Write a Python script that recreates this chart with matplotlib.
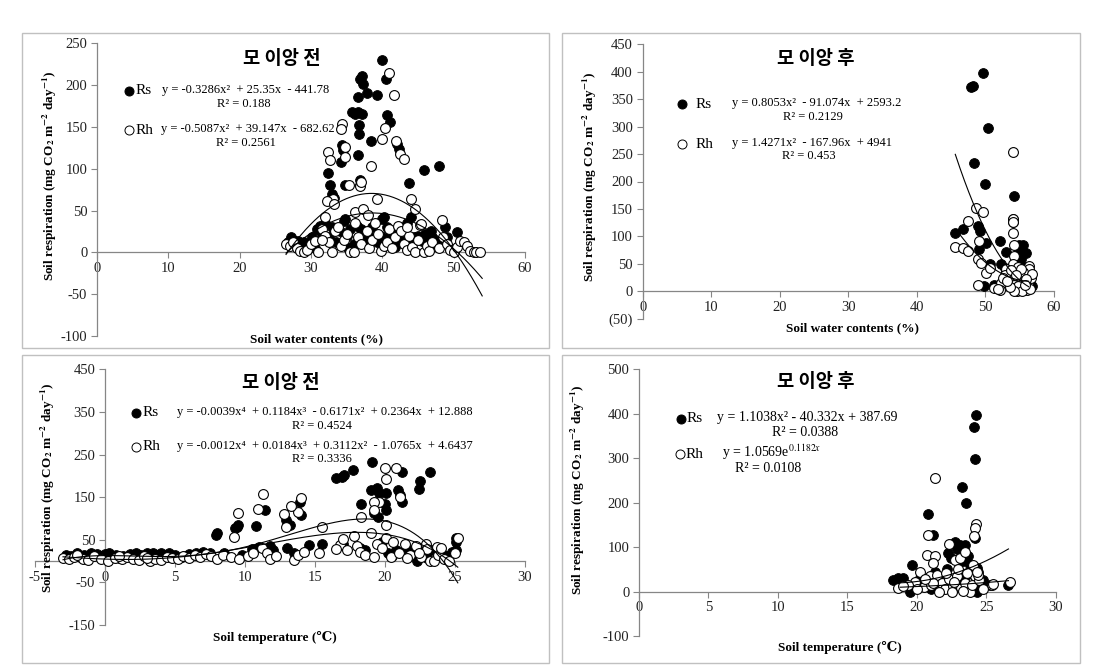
import numpy as np
import matplotlib
matplotlib.use("Agg")
import matplotlib.pyplot as plt
from matplotlib.lines import Line2D
from matplotlib.patches import Rectangle

plt.rcParams['font.family'] = ['Liberation Serif', 'DejaVu Serif']
plt.rcParams['mathtext.fontset'] = 'stix'
plt.rcParams['axes.unicode_minus'] = False

# ---------------- DATA ----------------
# Panel 1: soil water contents, before transplanting
p1_rs_x = [39.9,37.1,36.9,37.3,37.9,36.6,39.2,40.5,35.7,36.6,37.1,36.2,36.7,36.7,40.7,41.1,38.4,42.0,42.3,34.3,34.5,34.2,36.6,45.8,48.0,43.8,32.4,32.7,32.9,34.7,36.9,36.8,44.0,48.8,50.5,33.2,34.8,40.0,37.0,38.6,
           26.8,27.2,27.5,27.8,28.2,28.6,29.0,29.5,30.2,30.8,31.2,31.6,32.0,32.5,33.0,33.5,34.0,34.6,35.0,35.5,36.0,36.5,37.5,38.0,39.2,39.8,40.2,40.6,41.0,41.5,42.0,42.5,43.0,43.5,44.0,44.5,45.0,45.5,46.0,46.5,47.0,47.5,48.0,30.5,35.2,41.8,46.8,49.0]
p1_rs_y = [230,211,207,201,191,186,188,207,168,168,166,165,152,142,164,156,133,130,124,128,122,108,116,98,103,83,95,80,70,81,86,80,42,30,24,65,40,40,28,30,
           12,18,15,10,14,8,12,6,18,28,32,22,35,18,30,12,25,38,20,28,10,32,15,22,12,20,42,30,18,10,22,15,28,35,12,18,20,14,22,16,18,10,14,5,5,6,25,18]
p1_rh_x = [40.9,41.7,34.3,34.2,39.9,40.4,32.4,32.6,34.8,34.8,42.5,43.0,41.9,38.4,35.3,36.9,37.0,44.0,39.2,33.1,32.2,48.4,44.6,45.3,33.2,36.2,37.3,32.0,
           26.5,27.0,27.5,28.0,28.5,29.0,29.5,30.0,30.5,31.0,31.6,32.0,32.5,33.0,33.3,33.8,34.2,34.6,35.0,35.4,36.2,36.6,37.0,37.8,38.2,38.6,39.0,39.4,39.8,40.2,40.6,41.0,41.4,41.8,42.2,42.6,43.0,43.4,43.8,44.2,44.6,45.0,45.4,45.8,46.2,46.6,47.0,48.0,48.5,49.0,49.5,50.0,50.5,50.9,51.4,51.9,52.3,52.8,53.2,53.7,36.0,31.5,38.0,43.5]
p1_rh_y = [214,188,153,147,135,149,120,110,126,114,118,112,133,103,80,79,84,64,64,64,62,39,52,33,58,48,52,42,
           10,8,12,5,2,0,3,10,14,0,28,20,12,0,25,30,8,15,22,0,35,18,10,26,5,15,35,22,2,8,12,28,5,18,32,25,10,3,20,6,0,15,34,0,8,2,12,5,18,10,3,1,6,14,12,8,2,0,0,0,0,15,45,30]

# Panel 2: soil water contents, after transplanting
p2_rs_x = [49.6,48.2,47.9,50.3,48.4,50.0,54.1,54.0,54.0,45.6,46.7,48.9,49.2,49.0,50.1,50.6,52.1,52.3,53.0,54.9,54.9,55.2,49.8,51.3,56.8,55.5,55.0,54.5,55.8,56.2,55.0,54.2,53.5,56.5,55.5,54.8,53.2,52.8,55.9,54.6]
p2_rs_y = [398,374,372,298,234,196,173,131,127,106,113,119,109,77,88,49,92,49,71,85,73,58,9,12,9,85,50,40,30,20,25,18,30,12,5,2,35,42,70,62]
p2_rh_x = [54.0,48.6,49.7,47.4,45.5,46.7,47.5,49.0,48.9,49.4,50.1,50.6,48.9,54.0,54.0,54.0,54.1,54.1,54.0,54.8,53.0,52.3,52.1,51.3,56.4,56.4,55.5,55.0,54.5,54.2,54.0,54.6,55.2,55.8,56.2,56.6,56.8,55.6,54.8,53.5,52.8,53.8,55.2,56.0,55.4,54.2,53.6,52.5,51.8,55.9,56.5,54.4,53.2,55.7]
p2_rh_y = [254,151,144,128,81,78,73,91,58,52,34,43,12,131,126,107,85,65,50,45,40,15,3,6,46,40,35,28,22,12,5,0,2,8,15,25,32,18,10,28,30,38,40,3,0,0,8,25,5,22,5,30,18,12]

# Panel 3: soil temperature, before transplanting
p3_rs_x = [-2.8,-2.4,-2.0,-1.5,-1.0,-0.6,-0.2,0.3,0.8,1.3,1.8,2.2,2.6,3.0,3.4,3.8,4.2,4.6,5.0,5.5,6.0,6.5,7.0,7.5,-1.8,1.0,3.2,5.8,0.0,4.0,
           19.1,16.5,16.9,17.1,17.7,21.2,23.2,22.5,22.4,19.0,19.4,19.6,20.1,20.9,21.1,21.2,18.3,20.0,20.1,19.2,19.5,13.9,14.0,13.2,12.9,11.4,10.8,9.4,9.5,9.3,8.0,7.9,
           15.5,14.6,13.0,18.2,18.6,22.0,25.1,25.1,25.1,24.4,11.0,11.8,10.5,8.5,9.8,12.0,13.5,20.2,20.8,21.5,22.4,22.8,23.3,23.8,24.2,22.3,19.8,17.0,21.8,20.5,23.0,24.8]
p3_rs_y = [15,12,18,14,20,16,12,18,14,12,16,20,14,18,20,15,12,18,14,10,16,18,22,20,10,8,10,12,16,19,
           233,194,198,202,214,208,210,188,168,167,171,159,159,167,155,139,135,135,120,112,104,139,108,85,96,120,82,80,84,77,65,61,
           41,37,31,30,26,14,53,45,27,10,32,35,28,20,15,25,20,20,25,30,28,32,25,18,14,0,45,40,22,12,8,22]
p3_rh_x = [-3.0,-2.6,-2.2,-1.6,-1.2,-0.8,-0.3,0.2,0.7,1.2,1.6,2.0,2.4,2.8,3.2,3.6,4.0,4.4,4.8,5.2,5.6,6.0,6.4,6.8,7.2,7.6,8.0,8.4,9.0,9.6,10.2,3.0,1.0,-2.0,
           20.0,20.8,20.1,11.3,10.9,9.5,9.2,14.0,13.8,13.3,12.8,12.9,19.6,19.2,19.2,18.3,20.1,15.5,21.1,23.7,
           10.6,11.2,11.6,11.8,13.5,13.8,14.2,15.3,16.8,17.0,17.3,17.8,18.0,18.2,18.6,19.0,19.4,19.8,20.1,20.6,20.4,21.0,21.4,21.8,22.2,22.6,22.9,23.2,23.5,23.8,24.2,24.6,25.0,25.2,23.0,22.4,21.6,19.2,24.0,16.5,12.2]
p3_rh_y = [8,4,10,6,2,12,5,0,8,4,10,6,2,12,0,6,2,10,8,4,12,8,14,10,16,12,6,14,10,5,12,8,12,14,
           218,218,192,157,122,112,57,149,116,129,110,81,139,139,120,104,85,81,151,34,
           20,30,18,5,2,15,22,18,38,52,25,60,35,22,15,65,40,30,53,45,10,20,40,15,35,10,40,0,0,15,5,0,20,55,28,20,8,10,30,28,12]

# Panel 4: soil temperature, after transplanting
p4_rs_x = [24.26,24.14,24.19,23.23,23.52,20.78,21.19,19.63,24.19,22.75,23.1,23.47,23.71,22.24,22.48,24.31,24.43,18.31,18.67,19.03,24.67,24.55,24.31,26.59,25.27,19.49,21.3,22.9,23.8,22.0,20.5,21.8,23.0,24.8,19.8,22.5,23.5,24.0,20.2,21.0,22.2,23.3]
p4_rs_y = [397,371,298,235,199,174,127,60,120,112,105,105,79,86,75,53,45,26,31,31,15,8,0,15,15,0,45,95,60,30,18,12,20,25,10,5,35,40,30,5,50,68]
p4_rh_x = [21.31,20.78,24.26,24.19,24.14,20.76,21.31,21.16,22.29,22.75,23.1,23.47,20.23,20.96,21.45,24.07,24.19,26.73,25.4,18.67,19.89,20.5,21.0,21.8,22.0,22.3,22.6,22.9,23.2,23.5,23.8,24.0,24.5,24.8,22.1,21.6,20.0,19.4,23.0,23.6,22.5,21.2,24.4,25.5,19.0,23.3,22.7,24.3,20.6]
p4_rh_y = [255,127,152,143,124,83,79,64,107,71,75,90,45,34,37,60,34,22,15,8,22,10,15,20,5,28,12,35,8,20,0,15,25,5,42,0,5,15,50,42,0,20,38,18,12,2,22,45,28]

# Trend-line coefficients shown on the chart
p1_rs_coef = [-0.3286, 25.35, -441.78]
p1_rh_coef = [-0.5087, 39.147, -682.62]
p2_rs_coef = [0.8053, -91.074, 2593.2]
p2_rh_coef = [1.4271, -167.96, 4941]
p3_rs_coef = [-0.0039, 0.1184, -0.6171, 0.2364, 12.888]
p3_rh_coef = [-0.0012, 0.0184, 0.3112, -1.0765, 4.6437]
p4_rs_coef = [1.1038, -40.332, 387.69]
p4_rh_exp = [1.0569, 0.1182]

# ---------------- FIGURE ----------------
W, H = 1116, 666
fig = plt.figure(figsize=(W/100, H/100), dpi=100)

def fx(px):
    return px / W

def fy(py):
    return 1 - py / H

# panel frames
for (x0, y0, x1, y1) in [(22, 33, 549, 348), (562, 33, 1080, 348), (22, 355, 549, 663), (562, 355, 1080, 663)]:
    fig.add_artist(Rectangle((fx(x0), fy(y1)), fx(x1) - fx(x0), fy(y0) - fy(y1),
                             transform=fig.transFigure, fill=False, edgecolor='#c0c0c0', lw=1.0))

GRAY = '#868686'
MS = 50

def make_ax(px0, py_top, px1, py_bot, xlim, ylim, xticks, yticks, ylabels=None):
    ax = fig.add_axes([fx(px0), fy(py_bot), fx(px1) - fx(px0), fy(py_top) - fy(py_bot)])
    ax.set_xlim(*xlim)
    ax.set_ylim(*ylim)
    for s in ['top', 'right']:
        ax.spines[s].set_visible(False)
    ax.spines['left'].set_position(('data', 0))
    ax.spines['bottom'].set_position(('data', 0))
    for s in ['left', 'bottom']:
        ax.spines[s].set_color(GRAY)
        ax.spines[s].set_linewidth(0.9)
    ax.set_xticks(xticks)
    ax.set_yticks(yticks)
    if ylabels is not None:
        ax.set_yticklabels(ylabels)
    ax.tick_params(direction='out', length=4, width=0.8, color=GRAY, labelsize=10.5, labelcolor='#222222', pad=3)
    ax.patch.set_alpha(0)
    return ax

def scatter(ax, rx, ry, hx, hy):
    ax.scatter(rx, ry, s=MS, c='black', edgecolors='black', linewidths=0.6, zorder=3, clip_on=False)
    ax.scatter(hx, hy, s=MS, c='white', edgecolors='black', linewidths=0.8, zorder=4, clip_on=False)

def legend_marker(px, py, filled):
    fig.add_artist(Line2D([fx(px)], [fy(py)], marker='o', markersize=6.5,
                          markerfacecolor='black' if filled else 'white',
                          markeredgecolor='black', markeredgewidth=0.7,
                          linestyle='none', transform=fig.transFigure))

def ftext(px, py, s, size=10, ha='left', weight='normal', family=None, **kw):
    kwargs = dict(fontsize=size, ha=ha, va='center', weight=weight)
    if family is not None:
        kwargs['family'] = family
    kwargs.update(kw)
    fig.text(fx(px), fy(py), s, **kwargs)

TITLE_FONT = ['Noto Sans CJK KR', 'DejaVu Sans']
YLAB = r'Soil respiration (mg CO$_\mathbf{2}$ m$^\mathbf{-2}$ day$^\mathbf{-1}$)'
EQ = 9

# ---- Panel 1 ----
ax1 = make_ax(97, 43.3, 525, 336, (0, 60), (-100, 250), range(0, 61, 10), range(-100, 251, 50))
scatter(ax1, p1_rs_x, p1_rs_y, p1_rh_x, p1_rh_y)
xx = np.linspace(26.5, 54, 200)
ax1.plot(xx, np.polyval(p1_rs_coef, xx), color='black', lw=0.8, zorder=5, clip_on=False)
ax1.plot(xx, np.polyval(p1_rh_coef, xx), color='black', lw=0.8, zorder=5, clip_on=False)
ftext(282, 58, '모 이앙 전', size=13.5, ha='center', weight='bold', family=TITLE_FONT)
legend_marker(129, 91, True)
ftext(136, 91, 'Rs', size=11)
ftext(162, 90, 'y = -0.3286x²  + 25.35x  - 441.78', size=EQ)
ftext(244, 104, 'R² = 0.188', size=EQ, ha='center')
legend_marker(129, 130, False)
ftext(136, 130, 'Rh', size=11)
ftext(161, 129, 'y = -0.5087x²  + 39.147x  - 682.62', size=EQ)
ftext(246, 143, 'R² = 0.2561', size=EQ, ha='center')
ftext(317, 339, 'Soil water contents (%)', size=9.5, ha='center', weight='bold')
fig.text(fx(50), fy(176), YLAB, rotation=90, fontsize=9.5, weight='bold', ha='center', va='center')

# ---- Panel 2 ----
ax2 = make_ax(642.7, 44.3, 1054, 318.7, (0, 60), (-50, 450), range(0, 61, 10), range(-50, 451, 50),
              ['(50)'] + [str(v) for v in range(0, 451, 50)])
scatter(ax2, p2_rs_x, p2_rs_y, p2_rh_x, p2_rh_y)
xx = np.linspace(45.8, 56.3, 200)
ax2.plot(xx, np.polyval(p2_rs_coef, xx), color='black', lw=0.8, zorder=5)
xx = np.linspace(45.6, 56.3, 200)
ax2.plot(xx, np.polyval(p2_rh_coef, xx), color='black', lw=0.8, zorder=5)
ftext(816, 58, '모 이앙 후', size=13.5, ha='center', weight='bold', family=TITLE_FONT)
legend_marker(682, 104, True)
ftext(696, 104, 'Rs', size=11)
ftext(732, 103, 'y = 0.8053x²  - 91.074x  + 2593.2', size=EQ)
ftext(813, 117, 'R² = 0.2129', size=EQ, ha='center')
legend_marker(682, 144, False)
ftext(696, 144, 'Rh', size=11)
ftext(732, 143, 'y = 1.4271x²  - 167.96x  + 4941', size=EQ)
ftext(809, 156, 'R² = 0.453', size=EQ, ha='center')
ftext(852, 328, 'Soil water contents (%)', size=9.5, ha='center', weight='bold')
fig.text(fx(590), fy(177), YLAB, rotation=90, fontsize=9.5, weight='bold', ha='center', va='center')

# ---- Panel 3 ----
ax3 = make_ax(35, 369.3, 525, 625, (-5, 30), (-150, 450), range(-5, 31, 5), range(-150, 451, 100))
scatter(ax3, p3_rs_x, p3_rs_y, p3_rh_x, p3_rh_y)
xx = np.linspace(-3, 25.2, 300)
ax3.plot(xx, np.polyval(p3_rs_coef, xx), color='black', lw=0.8, zorder=5)
ax3.plot(xx, np.polyval(p3_rh_coef, xx), color='black', lw=0.8, zorder=5)
ftext(281, 383, '모 이앙 전', size=13.5, ha='center', weight='bold', family=TITLE_FONT)
legend_marker(136, 413, True)
ftext(143, 413, 'Rs', size=11)
ftext(177, 412, 'y = -0.0039x⁴  + 0.1184x³  - 0.6171x²  + 0.2364x  + 12.888', size=EQ)
ftext(322, 426, 'R² = 0.4524', size=EQ, ha='center')
legend_marker(136, 447, False)
ftext(143, 447, 'Rh', size=11)
ftext(177, 446, 'y = -0.0012x⁴  + 0.0184x³  + 0.3112x²  - 1.0765x  + 4.6437', size=EQ)
ftext(322, 459, 'R² = 0.3336', size=EQ, ha='center')
ftext(275, 638, 'Soil temperature (℃)', size=9.5, ha='center', weight='bold')
fig.text(fx(48), fy(488), YLAB, rotation=90, fontsize=9.5, weight='bold', ha='center', va='center')

# ---- Panel 4 ----
ax4 = make_ax(639, 369.3, 1055.7, 636, (0, 30), (-100, 500), range(0, 31, 5), range(-100, 501, 100))
scatter(ax4, p4_rs_x, p4_rs_y, p4_rh_x, p4_rh_y)
xx = np.linspace(18.8, 26.6, 200)
ax4.plot(xx, np.polyval(p4_rs_coef, xx), color='black', lw=0.8, zorder=5)
ax4.plot(xx, p4_rh_exp[0] * np.exp(p4_rh_exp[1] * xx), color='black', lw=0.8, zorder=5)
ftext(816, 382, '모 이앙 후', size=13.5, ha='center', weight='bold', family=TITLE_FONT)
legend_marker(681, 419, True)
ftext(687, 419, 'Rs', size=11)
ftext(717, 418, 'y = 1.1038x² - 40.332x + 387.69', size=10)
ftext(805, 432, 'R² = 0.0388', size=10, ha='center')
legend_marker(680, 454, False)
ftext(686, 454, 'Rh', size=11)
ftext(722, 452, r'y = 1.0569e$^{0.1182x}$', size=10)
ftext(768, 469, 'R² = 0.0108', size=10, ha='center')
ftext(840, 647, 'Soil temperature (℃)', size=9.5, ha='center', weight='bold')
fig.text(fx(578), fy(490), YLAB, rotation=90, fontsize=9.5, weight='bold', ha='center', va='center')

fig.savefig('out.png', dpi=100)
